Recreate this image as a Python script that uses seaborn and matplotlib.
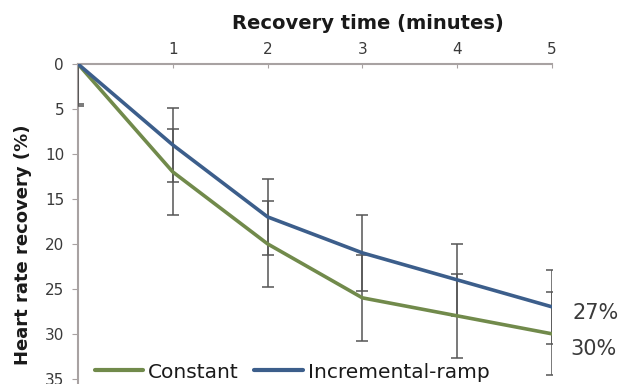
import matplotlib
matplotlib.use("Agg")
import matplotlib.pyplot as plt
import seaborn as sns
import pandas as pd
import numpy as np

# Data
minutes = [0, 1, 2, 3, 4, 5]
constant = [0, 12, 20, 26, 28, 30]
constant_sd = [4.7, 4.8, 4.75, 4.8, 4.7, 4.6]
ramp = [0, 9, 17, 21, 24, 27]
ramp_sd = [4.4, 4.1, 4.25, 4.2, 4.0, 4.15]
series_names = ["Constant", "Incremental-ramp"]
end_labels = ["27%", "30%"]
y_ticks = [0, 5, 10, 15, 20, 25, 30, 35]
x_ticks = [1, 2, 3, 4, 5]

green = "#718a4b"
blue = "#3c5e8b"
err_col = "#555555"
spine_col = "#a8a2a2"
text_col = "#3a3a3a"

sns.set_style("white")
plt.rcParams["font.family"] = ["DejaVu Sans"]

df = pd.DataFrame({
    "minutes": minutes * 2,
    "hrr": constant + ramp,
    "protocol": [series_names[0]] * len(minutes) + [series_names[1]] * len(minutes),
})

fig = plt.figure(figsize=(6.29, 3.84), dpi=100)
ax = fig.add_axes([78 / 629, -2 / 384, 474 / 629, 322 / 384])

# error bars
ax.errorbar(minutes, ramp, yerr=ramp_sd, fmt="none", ecolor=err_col,
            elinewidth=1.1, capsize=4, capthick=1.1, zorder=2.7)
ax.errorbar(minutes, constant, yerr=constant_sd, fmt="none", ecolor=err_col,
            elinewidth=1.1, capsize=4, capthick=1.1, zorder=2.7)

sns.lineplot(data=df, x="minutes", y="hrr", hue="protocol",
             palette=[green, blue], linewidth=2.6, ax=ax, zorder=3,
             legend=True)

ax.set_xlim(0, 5)
ax.set_ylim(35.8, 0)
ax.xaxis.tick_top()
ax.xaxis.set_label_position("top")
ax.set_xticks(x_ticks)
ax.set_yticks(y_ticks)
ax.tick_params(axis="x", direction="in", length=3, color=spine_col,
               labelsize=11, labelcolor=text_col, pad=5)
ax.tick_params(axis="y", direction="out", length=4, color=spine_col,
               labelsize=11, labelcolor=text_col, pad=6, left=True)

for s in ["right", "bottom"]:
    ax.spines[s].set_visible(False)
for s in ["top", "left"]:
    ax.spines[s].set_color(spine_col)
    ax.spines[s].set_linewidth(1.5)

ax.set_xlabel("Recovery time (minutes)", fontsize=14, fontweight="bold",
              color="#1a1a1a")
ax.xaxis.set_label_coords(0.612, 1.0 + 35 / 322)
ax.set_ylabel("Heart rate recovery (%)", fontsize=13, fontweight="bold",
              color="#1a1a1a")
ax.yaxis.set_label_coords(-46 / 474, 0.438)

# end labels
fig.text(596 / 629, 1 - 313 / 384, end_labels[0], fontsize=15,
         color=text_col, ha="center", va="center")
fig.text(594 / 629, 1 - 349 / 384, end_labels[1], fontsize=15,
         color=text_col, ha="center", va="center")

leg = ax.legend(loc="center left", bbox_to_anchor=(95 / 629, 1 - 372 / 384),
                bbox_transform=fig.transFigure, ncol=2, frameon=False,
                fontsize=14.5, handlelength=2.4, handletextpad=0.25,
                columnspacing=0.75, borderpad=0, borderaxespad=0)
for t in leg.get_texts():
    t.set_color("#1a1a1a")
for l in leg.get_lines():
    l.set_linewidth(3)

fig.savefig("out.png", dpi=100)
